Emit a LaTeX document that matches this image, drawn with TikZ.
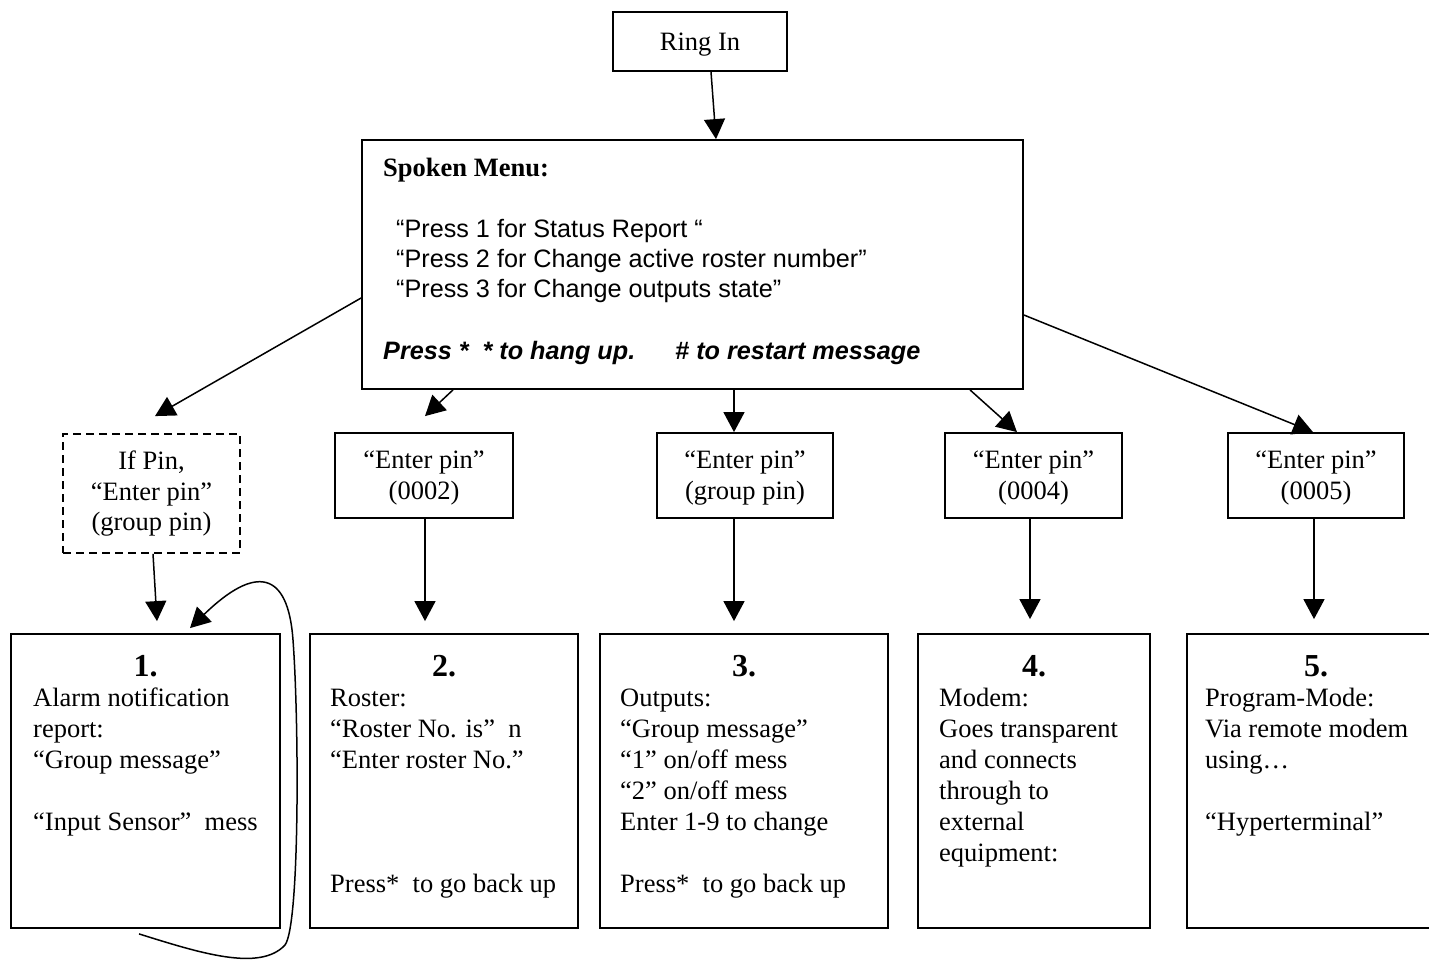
\documentclass[tikz,border=0pt]{standalone}
\usepackage{fontspec}
\setmainfont{Liberation Serif}
\newfontfamily\arialfam{Liberation Sans}
\usetikzlibrary{arrows.meta,calc}
\newcommand\tmfont{\fontsize{26.5pt}{31pt}\selectfont}
\newcommand\numfont{\fontsize{32pt}{36pt}\selectfont\bfseries}
\newcommand\sffont{\arialfam\fontsize{25.2pt}{30pt}\selectfont}
% rectangle from its corners: [style]{name}{x1}{y1}{x2}{y2}
\newcommand\placebox[6][]{%
  \node[box,#1,minimum width={(#5-#3)*1pt},minimum height={(#6-#4)*1pt}]
    (#2) at ({(#3+#5)/2},{(#4+#6)/2}) {};}
\begin{document}
\begin{tikzpicture}[x=1pt,y=-1pt,
  box/.style={draw,line width=1.8pt,rectangle,inner sep=0pt},
  dbox/.style={dash pattern=on 8pt off 5pt},
  arr/.style={line width=1.5pt,-{Triangle[length=20pt,width=21pt]}},
  tm/.style={font=\tmfont,inner sep=0pt},
  lt/.style={tm,anchor=base west},
  ct/.style={tm,anchor=base},
  num/.style={inner sep=0pt,anchor=base,font=\numfont},
  sf/.style={font=\sffont,inner sep=0pt,anchor=base west}]
\useasboundingbox (0,0) rectangle (1429,963);

% ---- boxes ----
\placebox{ring}{613}{12}{787}{71}
\placebox{menu}{362}{140}{1023}{389}
\placebox[dbox]{pin0}{63}{434}{240}{553}
\placebox{pin2}{335}{433}{513}{518}
\placebox{pin3}{657}{433}{833}{518}
\placebox{pin4}{945}{433}{1122}{518}
\placebox{pin5}{1228}{433}{1404}{518}
\placebox{b1}{11}{634}{280}{928}
\placebox{b2}{310}{634}{578}{928}
\placebox{b3}{600}{634}{888}{928}
\placebox{b4}{918}{634}{1150}{928}
\placebox{b5}{1187}{634}{1440}{928}

% ---- texts ----
\node[ct] (ringt) at (700,51) {Ring In};

\node[lt,font=\tmfont\bfseries] (menut) at (383,176) {Spoken Menu:};
\node[sf] (menu1) at (396,237) {“Press 1 for Status Report “};
\node[sf] (menu2) at (396,267) {“Press 2 for Change active roster number”};
\node[sf] (menu3) at (396,297) {“Press 3 for Change outputs state”};
\node[sf,font=\sffont\bfseries\itshape] (menu4) at (383,359)
  {Press *\ \ * to hang up.\hspace{40pt}\# to restart message};

\node[ct] (pin0a) at (151.5,469) {If Pin,};
\node[ct] (pin0b) at (151.5,500) {“Enter pin”};
\node[ct] (pin0c) at (151.5,530) {(group pin)};
\node[ct] (pin2a) at (424,468) {“Enter pin”};
\node[ct] (pin2b) at (424,499) {(0002)};
\node[ct] (pin3a) at (745,468) {“Enter pin”};
\node[ct] (pin3b) at (745,499) {(group pin)};
\node[ct] (pin4a) at (1033.5,468) {“Enter pin”};
\node[ct] (pin4b) at (1033.5,499) {(0004)};
\node[ct] (pin5a) at (1316,468) {“Enter pin”};
\node[ct] (pin5b) at (1316,499) {(0005)};

\node[num] (b1n) at (145.5,676) {1.};
\foreach \k/\t in {1/Alarm notification,2/report:,3/{“Group message”},
                   5/{“Input Sensor”\ \ mess}}
  \node[lt] (b1t\k) at (33,{675+31*\k}) {\t};

\node[num] (b2n) at (444,676) {2.};
\foreach \k/\t in {1/Roster:,2/{“Roster No. is”\ \ n},3/{“Enter roster No.”},
                   7/{Press*\ \ to go back up}}
  \node[lt] (b2t\k) at (330,{675+31*\k}) {\t};

\node[num] (b3n) at (744,676) {3.};
\foreach \k/\t in {1/Outputs:,2/{“Group message”},3/{“1” on/off mess},
                   4/{“2” on/off mess},5/{Enter 1-9 to change},
                   7/{Press*\ \ to go back up}}
  \node[lt] (b3t\k) at (620,{675+31*\k}) {\t};

\node[num] (b4n) at (1034,676) {4.};
\foreach \k/\t in {1/Modem:,2/Goes transparent,3/and connects,
                   4/through to,5/external,6/equipment:}
  \node[lt] (b4t\k) at (939,{675+31*\k}) {\t};

\node[num] (b5n) at (1316,676) {5.};
\foreach \k/\t in {1/Program-Mode:,2/Via remote modem,3/using…,
                   5/{“Hyperterminal”}}
  \node[lt] (b5t\k) at (1205,{675+31*\k}) {\t};

% ---- connectors ----
\draw[arr] ([xshift=11pt]ring.south) -- ([xshift=23.5pt]menu.north);
\draw[arr] ([yshift=-33.5pt]menu.west) -- ([xshift=3.5pt,yshift=17pt]pin0.north);
\draw[arr] ([xshift=-239.5pt]menu.south) -- ([xshift=1pt,yshift=16pt]pin2.north);
\draw[arr] ([xshift=41.5pt]menu.south) -- ([xshift=-11pt]pin3.north);
\draw[arr] ([xshift=277.5pt]menu.south) -- ([xshift=-16.5pt]pin4.north);
\draw[arr] ([yshift=-50.5pt]menu.east) -- ([xshift=-3pt]pin5.north);

\draw[arr] ([xshift=1.5pt]pin0.south) -- ([xshift=11.5pt,yshift=12pt]b1.north);
\draw[arr] ([xshift=1pt]pin2.south) -- ([xshift=-19pt,yshift=12pt]b2.north);
\draw[arr] ([xshift=-11pt]pin3.south) -- ([xshift=-10pt,yshift=12pt]b3.north);
\draw[arr] ([xshift=-3.5pt]pin4.south) -- ([xshift=-4pt,yshift=14pt]b4.north);
\draw[arr] ([xshift=-2pt]pin5.south) -- ([xshift=0.5pt,yshift=14pt]b5.north);

% loop back into box 1
\coordinate (loopS) at ([xshift=-6.5pt,yshift=-5pt]b1.south);
\coordinate (loopE) at ([xshift=44.5pt,yshift=5pt]b1.north);
\draw[arr] (loopS) .. controls (200,953) and (260,972) .. (285,945)
  .. controls (300,925) and (299,720) .. (293,640)
  .. controls (288,570) and (255,565) .. (loopE);
\end{tikzpicture}
\end{document}
